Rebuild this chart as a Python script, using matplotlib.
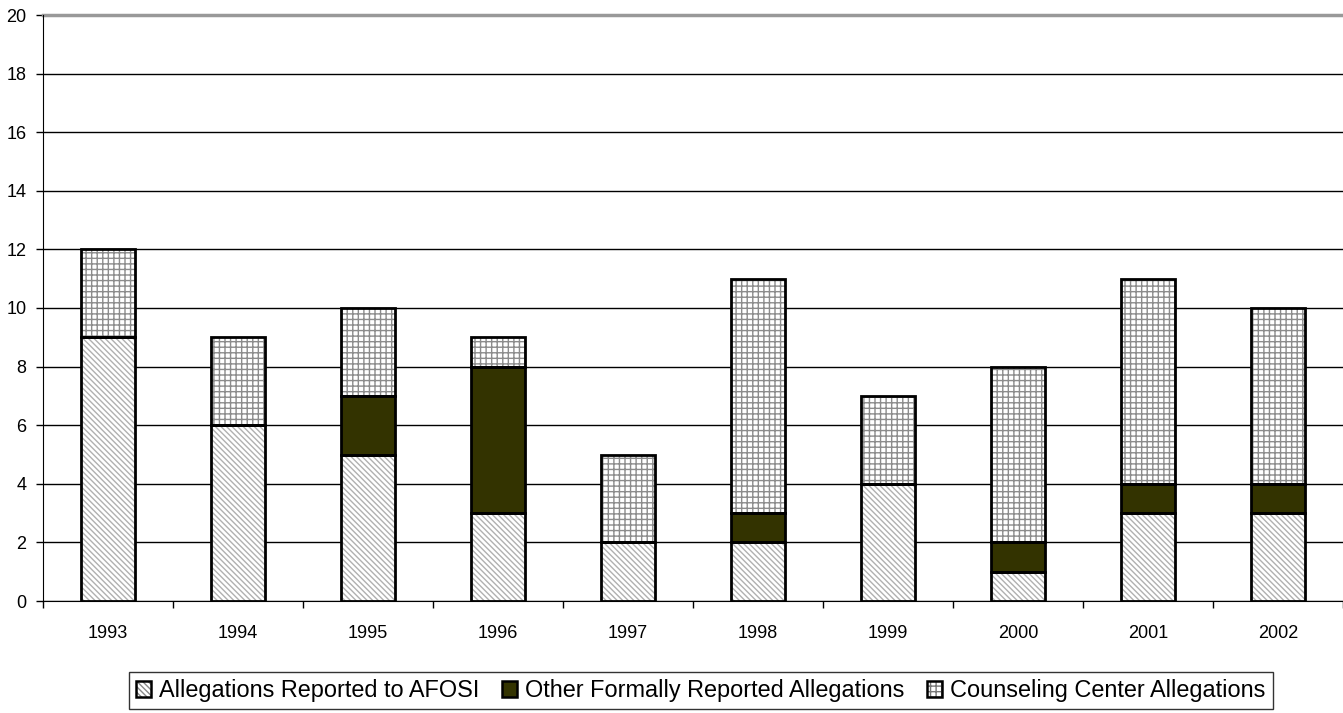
import matplotlib
matplotlib.use('Agg')
import matplotlib.pyplot as plt
import numpy as np
from matplotlib.patches import Patch

plt.rcParams['font.family'] = ['Liberation Sans', 'DejaVu Sans']

years = ['1993', '1994', '1995', '1996', '1997', '1998', '1999', '2000', '2001', '2002']
afosi = [9, 6, 5, 3, 2, 2, 4, 1, 3, 3]
other = [0, 0, 2, 5, 0, 1, 0, 1, 1, 1]
counseling = [3, 3, 3, 1, 3, 8, 3, 6, 7, 6]
labels = ['Allegations Reported to AFOSI', 'Other Formally Reported Allegations',
          'Counseling Center Allegations']

W, H = 1343, 713
fig = plt.figure(figsize=(W / 100, H / 100), dpi=100)
ax = fig.add_axes([43 / W, 112 / H, 1300 / W, 586 / H])

x = np.arange(len(years))
width = 0.41
afosi = np.array(afosi)
other = np.array(other)
counseling = np.array(counseling)

plt.rcParams['hatch.linewidth'] = 1.0

DIAG = '\\' * 6
GRID = '+++'

def stack(vals, bottom, face, hatch, hcol):
    # hatch layer (edgecolor drives hatch colour), then black outline on top
    ax.bar(x, vals, width, bottom=bottom, color=face, hatch=hatch, edgecolor=hcol,
           linewidth=0, zorder=3)
    ax.bar(x, vals, width, bottom=bottom, fill=False, edgecolor='black',
           linewidth=2, zorder=4)

stack(afosi, 0, 'white', DIAG, '#b0b0b0')
stack(other, afosi, '#333300', None, '#333300')
stack(counseling, afosi + other, 'white', GRID, '#8c8c8c')

ax.set_xlim(-0.5, len(years) - 0.5)
ax.set_ylim(0, 20)
ax.set_yticks(range(0, 21, 2))
ax.yaxis.grid(True, color='black', linewidth=1)
ax.set_axisbelow(True)
# top gridline grey
ax.axhline(20, color='#999999', linewidth=2.5, zorder=2, clip_on=False)

ax.set_xticks(x)
ax.set_xticklabels(years)
ax.set_xticks(np.arange(-0.5, len(years)), minor=True)
ax.tick_params(axis='x', which='major', length=0, pad=17, labelsize=13)
ax.tick_params(axis='x', which='minor', length=5, width=1, color='black')
ax.tick_params(axis='y', length=5, width=1, labelsize=13, pad=7)

for s in ['top', 'right']:
    ax.spines[s].set_visible(False)
ax.spines['left'].set_color('black')
ax.spines['bottom'].set_color('black')

outline = Patch(facecolor='none', edgecolor='black', linewidth=1.8)
handles = [
    (Patch(facecolor='white', hatch=DIAG, edgecolor='#888888', linewidth=0), outline),
    Patch(facecolor='#333300', edgecolor='black', linewidth=1.8),
    (Patch(facecolor='white', hatch=GRID, edgecolor='#777777', linewidth=0), outline),
]
top = 1 - 672 / H
leg = fig.legend(handles, labels, loc='upper left', ncol=3,
                 bbox_to_anchor=(129 / W, top), frameon=True, fancybox=False,
                 fontsize=16.9, handlelength=0.64, handleheight=0.64,
                 handletextpad=0.33, columnspacing=0.98, borderpad=0.3,
                 borderaxespad=0)
leg.get_frame().set_edgecolor('black')
leg.get_frame().set_linewidth(1)

fig.savefig('out.png', dpi=100)
